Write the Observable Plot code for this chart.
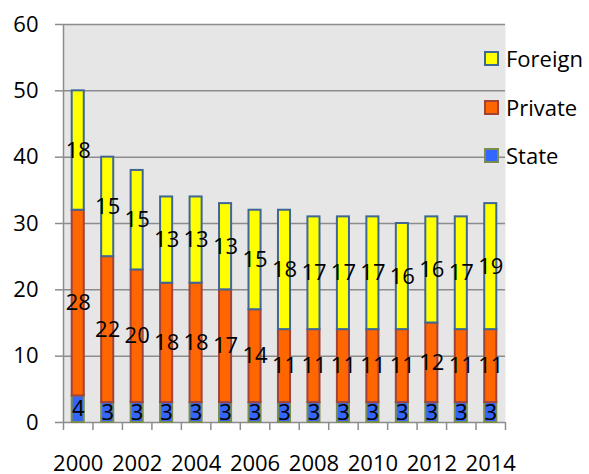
<!DOCTYPE html>
<html>
<head>
<meta charset="utf-8">
<script src="https://cdn.jsdelivr.net/npm/d3@7"></script>
<script src="https://cdn.jsdelivr.net/npm/@observablehq/plot@0.6"></script>
<style>
  html, body { margin: 0; padding: 0; background: #fff; }
  #wrap { position: relative; width: 589px; height: 474px; font-family: "Open Sans", Lato, sans-serif; }
  #legend { position: absolute; left: 484px; top: 0; }
  .item { position: absolute; left: 0; display: flex; align-items: center; height: 26px; white-space: nowrap; font-size: 22px; color: #000; }
  .swatch { width: 11px; height: 11px; border: 2px solid; margin-right: 7px; }
</style>
</head>
<body>
<div id="wrap"><div id="legend"></div></div>
<script>
// Fleet by ownership, 2000–2014
const years = [2000, 2001, 2002, 2003, 2004, 2005, 2006, 2007, 2008, 2009, 2010, 2011, 2012, 2013, 2014];
const state = [4, 3, 3, 3, 3, 3, 3, 3, 3, 3, 3, 3, 3, 3, 3];
const privateOwned = [28, 22, 20, 18, 18, 17, 14, 11, 11, 11, 11, 11, 12, 11, 11];
const foreign = [18, 15, 15, 13, 13, 13, 15, 18, 17, 17, 17, 16, 16, 17, 19];
const yTicks = [0, 10, 20, 30, 40, 50, 60];
const labelYears = [2000, 2002, 2004, 2006, 2008, 2010, 2012, 2014];

const series = [
  {name: "State", values: state, fill: "#3366ff", stroke: "#7a8c4e"},
  {name: "Private", values: privateOwned, fill: "#ff6600", stroke: "#a0433a"},
  {name: "Foreign", values: foreign, fill: "#ffff00", stroke: "#3f6796"}
];

// stack the three series per year, bottom to top
const rows = [];
years.forEach((year, i) => {
  let base = 0;
  for (const s of series) {
    const v = s.values[i];
    rows.push({year, type: s.name, value: v, y1: base, y2: base + v});
    base += v;
  }
});

const boundaries = years.map(y => y - 0.5).concat([years[years.length - 1] + 0.5]);
const gray = "#8c8c8c";
const font = "'Open Sans', Lato, sans-serif";

const barMarks = series.map(s =>
  Plot.rect(rows.filter(d => d.type === s.name), {
    x1: d => d.year - 0.5,
    x2: d => d.year + 0.5,
    y1: "y1",
    y2: "y2",
    insetLeft: 8.7,
    insetRight: 8.7,
    fill: s.fill,
    stroke: s.stroke,
    strokeWidth: 2
  })
);

const chart = Plot.plot({
  width: 589,
  height: 474,
  marginLeft: 63,
  marginRight: 84,
  marginTop: 24,
  marginBottom: 52,
  style: {fontFamily: font, fontSize: "22px", background: "white", color: "black", overflow: "visible"},
  x: {type: "linear", domain: [1999.5, 2014.5], label: null},
  y: {domain: [0, 60], label: null},
  marks: [
    Plot.frame({fill: "#e6e6e6", stroke: "none"}),
    Plot.gridY(yTicks, {stroke: gray, strokeOpacity: 1, strokeWidth: 1.5}),
    Plot.ruleX([boundaries[0]], {stroke: gray, strokeWidth: 1.5}),
    Plot.axisY(yTicks, {tickSize: 8, tickPadding: 17, fontSize: 22, stroke: gray, strokeWidth: 1.5, fill: "black", label: null}),
    Plot.axisX(boundaries, {tickSize: 8, fill: "none", stroke: gray, strokeWidth: 1.5, label: null}),
    Plot.axisX(labelYears, {tickSize: 0, tickPadding: 33, fontSize: 22, fill: "black", tickFormat: d => String(d), label: null}),
    ...barMarks,
    Plot.text(rows, {
      x: "year",
      y: d => (d.y1 + d.y2) / 2,
      text: d => String(d.value),
      fontSize: 22,
      fill: "black"
    })
  ]
});

const wrap = document.getElementById("wrap");
wrap.insertBefore(chart, wrap.firstChild);

// legend, top to bottom: Foreign, Private, State
const legend = document.getElementById("legend");
const legendTops = [45, 94, 142];
series.slice().reverse().forEach((s, i) => {
  const item = document.createElement("div");
  item.className = "item";
  item.style.top = legendTops[i] + "px";
  const sw = document.createElement("span");
  sw.className = "swatch";
  sw.style.background = s.fill;
  sw.style.borderColor = s.stroke;
  const label = document.createElement("span");
  label.textContent = s.name;
  item.appendChild(sw);
  item.appendChild(label);
  legend.appendChild(item);
});
</script>
</body>
</html>
